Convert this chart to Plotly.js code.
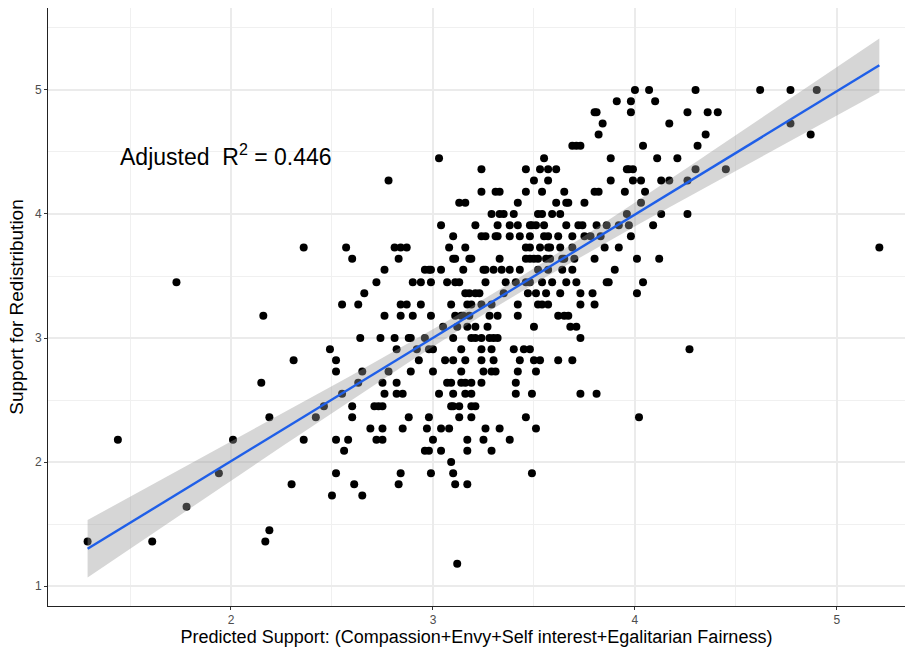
<!DOCTYPE html>
<html><head><meta charset="utf-8">
<script src="https://cdn.plot.ly/plotly-3.0.1.min.js"></script>
<style>html,body{margin:0;padding:0;background:#fff}#chart{width:908px;height:648px}</style>
</head><body><div id="chart"></div>
<script>
// Predicted Support (x) and Support for Redistribution (y), row by row
const predicted = [
4.00,4.07,4.30,4.62,4.77,4.90,
3.91,3.98,4.10,
3.80,3.81,3.98,4.26,4.36,4.41,
3.84,4.17,4.77,
3.82,4.35,4.87,
3.69,3.71,3.73,4.04,4.31,
3.03,3.55,3.88,4.11,4.21,
3.24,3.46,3.53,3.57,3.61,3.96,3.97,3.99,4.30,4.45,
2.78,3.50,3.57,3.88,3.99,4.03,4.13,4.17,4.26,
3.24,3.31,3.33,3.46,3.54,3.65,3.80,3.82,3.95,4.05,
3.13,3.16,3.42,3.61,3.66,3.67,3.75,4.03,
3.29,3.33,3.35,3.40,3.52,3.54,3.59,3.63,3.96,4.13,4.26,
3.04,3.21,3.32,3.38,3.42,3.48,3.49,3.51,3.55,3.66,3.72,3.74,3.81,3.86,3.92,3.97,4.09,
3.10,3.24,3.26,3.31,3.32,3.38,3.43,3.48,3.55,3.57,3.62,3.69,3.75,3.78,3.83,3.98,
2.36,2.57,2.81,2.84,2.87,3.08,3.16,3.46,3.48,3.53,3.57,3.58,3.63,3.69,3.85,3.92,5.21,
2.60,2.83,3.10,3.11,3.18,3.19,3.33,3.46,3.48,3.50,3.52,3.56,3.58,3.64,3.65,3.70,3.80,4.01,4.12,
2.76,2.96,2.98,2.99,3.04,3.15,3.25,3.26,3.30,3.34,3.38,3.43,3.52,3.57,3.64,3.69,3.90,
1.73,2.72,2.90,2.94,2.99,3.07,3.11,3.13,3.26,3.36,3.41,3.46,3.48,3.54,3.59,3.66,3.71,3.86,3.87,4.04,
2.66,3.16,3.18,3.21,3.23,3.35,3.47,3.51,3.56,3.63,3.73,3.79,4.01,
2.55,2.63,2.84,2.87,2.94,3.09,3.17,3.19,3.24,3.29,3.42,3.52,3.54,3.57,3.73,3.80,
2.16,2.76,2.84,2.90,2.99,3.11,3.14,3.15,3.18,3.28,3.32,3.42,3.62,3.65,3.67,
3.05,3.12,3.17,3.21,3.27,3.50,3.68,3.71,
2.64,2.74,2.81,2.88,2.89,2.96,3.10,3.19,3.21,3.24,3.28,3.30,3.32,3.73,
2.49,2.82,2.92,2.98,3.00,3.14,3.24,3.29,3.40,3.45,3.48,4.27,
2.31,2.52,2.93,3.06,3.10,3.16,3.24,3.30,3.43,3.50,3.53,3.62,3.69,
2.52,2.65,2.78,2.89,3.00,3.14,3.25,3.29,3.31,3.42,3.51,
2.15,2.63,2.75,2.82,3.07,3.09,3.14,3.16,3.19,3.24,3.41,
2.55,2.76,2.82,2.85,3.03,3.10,3.16,3.19,3.41,3.49,3.73,3.81,
2.46,2.60,2.71,2.73,2.75,3.09,3.10,3.13,3.19,3.21,
2.19,2.42,2.60,2.88,2.98,3.13,3.19,3.46,4.02,
2.69,2.75,2.85,2.97,3.04,3.08,3.26,3.33,3.51,
1.44,2.01,2.36,2.52,2.58,2.72,2.75,3.00,3.17,3.25,3.38,
2.56,2.96,2.98,3.04,3.17,3.29,
3.09,
1.94,2.52,2.84,2.99,3.10,3.49,
2.30,2.61,2.83,3.11,3.17,
2.50,2.65,
1.78,
2.19,
1.29,1.61,2.17,
3.12
];
const support = [
5,5,5,5,5,5,
4.91,4.91,4.91,
4.82,4.82,4.82,4.82,4.82,4.82,
4.73,4.73,4.73,
4.64,4.64,4.64,
4.55,4.55,4.55,4.55,4.55,
4.45,4.45,4.45,4.45,4.45,
4.36,4.36,4.36,4.36,4.36,4.36,4.36,4.36,4.36,4.36,
4.27,4.27,4.27,4.27,4.27,4.27,4.27,4.27,4.27,
4.18,4.18,4.18,4.18,4.18,4.18,4.18,4.18,4.18,4.18,
4.09,4.09,4.09,4.09,4.09,4.09,4.09,4.09,
4,4,4,4,4,4,4,4,4,4,4,
3.91,3.91,3.91,3.91,3.91,3.91,3.91,3.91,3.91,3.91,3.91,3.91,3.91,3.91,3.91,3.91,3.91,
3.82,3.82,3.82,3.82,3.82,3.82,3.82,3.82,3.82,3.82,3.82,3.82,3.82,3.82,3.82,3.82,
3.73,3.73,3.73,3.73,3.73,3.73,3.73,3.73,3.73,3.73,3.73,3.73,3.73,3.73,3.73,3.73,3.73,
3.64,3.64,3.64,3.64,3.64,3.64,3.64,3.64,3.64,3.64,3.64,3.64,3.64,3.64,3.64,3.64,3.64,3.64,3.64,
3.55,3.55,3.55,3.55,3.55,3.55,3.55,3.55,3.55,3.55,3.55,3.55,3.55,3.55,3.55,3.55,3.55,
3.45,3.45,3.45,3.45,3.45,3.45,3.45,3.45,3.45,3.45,3.45,3.45,3.45,3.45,3.45,3.45,3.45,3.45,3.45,3.45,
3.36,3.36,3.36,3.36,3.36,3.36,3.36,3.36,3.36,3.36,3.36,3.36,3.36,
3.27,3.27,3.27,3.27,3.27,3.27,3.27,3.27,3.27,3.27,3.27,3.27,3.27,3.27,3.27,3.27,
3.18,3.18,3.18,3.18,3.18,3.18,3.18,3.18,3.18,3.18,3.18,3.18,3.18,3.18,3.18,
3.09,3.09,3.09,3.09,3.09,3.09,3.09,3.09,
3,3,3,3,3,3,3,3,3,3,3,3,3,3,
2.91,2.91,2.91,2.91,2.91,2.91,2.91,2.91,2.91,2.91,2.91,2.91,
2.82,2.82,2.82,2.82,2.82,2.82,2.82,2.82,2.82,2.82,2.82,2.82,2.82,
2.73,2.73,2.73,2.73,2.73,2.73,2.73,2.73,2.73,2.73,2.73,
2.64,2.64,2.64,2.64,2.64,2.64,2.64,2.64,2.64,2.64,2.64,
2.55,2.55,2.55,2.55,2.55,2.55,2.55,2.55,2.55,2.55,2.55,2.55,
2.45,2.45,2.45,2.45,2.45,2.45,2.45,2.45,2.45,2.45,
2.36,2.36,2.36,2.36,2.36,2.36,2.36,2.36,2.36,
2.27,2.27,2.27,2.27,2.27,2.27,2.27,2.27,2.27,
2.18,2.18,2.18,2.18,2.18,2.18,2.18,2.18,2.18,2.18,2.18,
2.09,2.09,2.09,2.09,2.09,2.09,
2,
1.91,1.91,1.91,1.91,1.91,1.91,
1.82,1.82,1.82,1.82,1.82,
1.73,1.73,
1.64,
1.45,
1.36,1.36,1.36,
1.18
];
const xTicks = [2, 3, 4, 5];
const yTicks = [1, 2, 3, 4, 5];
const xTitle = 'Predicted Support: (Compassion+Envy+Self interest+Egalitarian Fairness)';
const yTitle = 'Support for Redistribution';
const r2Label = 'Adjusted  R<sup>2</sup> = 0.446';

// Linear fit (lm) with 95% confidence band, computed from the points
const n = Math.min(predicted.length, support.length);
const X = predicted.slice(0, n), Y = support.slice(0, n);
const xbar = X.reduce((a, b) => a + b, 0) / n;
const ybar = Y.reduce((a, b) => a + b, 0) / n;
let sxx = 0, sxy = 0;
for (let i = 0; i < n; i++) { sxx += (X[i] - xbar) ** 2; sxy += (X[i] - xbar) * (Y[i] - ybar); }
const slope = sxy / sxx, intercept = ybar - slope * xbar;
let sse = 0;
for (let i = 0; i < n; i++) sse += (Y[i] - intercept - slope * X[i]) ** 2;
const s = Math.sqrt(sse / (n - 2));
const tq = 1.966;
const xmin = Math.min(...X), xmax = Math.max(...X);
const gx = [], gy = [], lo = [], hi = [];
for (let k = 0; k <= 80; k++) {
  const x = xmin + (xmax - xmin) * k / 80;
  const yh = intercept + slope * x;
  const se = s * Math.sqrt(1 / n + (x - xbar) ** 2 / sxx);
  gx.push(x); gy.push(yh); lo.push(yh - tq * se); hi.push(yh + tq * se);
}

const traces = [
  { type: 'scatter', mode: 'markers', x: X, y: Y, marker: { color: '#000', size: 8 }, hoverinfo: 'x+y' },
  { type: 'scatter', mode: 'lines', x: gx.concat(gx.slice().reverse()), y: hi.concat(lo.slice().reverse()),
    fill: 'toself', fillcolor: 'rgba(153,153,153,0.4)', line: { width: 0 }, hoverinfo: 'skip' },
  { type: 'scatter', mode: 'lines', x: gx, y: gy, line: { color: '#1f5fe8', width: 2.4 }, hoverinfo: 'skip' }
];

const axisCommon = {
  showgrid: true, gridcolor: '#ebebeb', gridwidth: 1.2, zeroline: false,
  showline: true, linecolor: '#222222', linewidth: 1, mirror: false,
  ticks: 'outside', ticklen: 3, tickcolor: '#333333', tickwidth: 1,
  tickfont: { family: 'Liberation Sans, Arial, sans-serif', size: 12, color: '#4d4d4d' },
  minor: { dtick: 0.5, showgrid: true, gridcolor: '#f0f0f0', gridwidth: 1, ticks: '' }
};

const layout = {
  width: 908, height: 648,
  margin: { l: 48, r: 3, t: 8, b: 42 },
  paper_bgcolor: '#fff', plot_bgcolor: '#fff',
  showlegend: false,
  font: { family: 'Liberation Sans, Arial, sans-serif' },
  xaxis: Object.assign({}, axisCommon, {
    range: [1.094, 5.337], tickvals: xTicks, ticktext: xTicks.map(String),
    minor: Object.assign({}, axisCommon.minor, { tick0: 0 }),
    title: { text: xTitle, font: { size: 18, color: '#000' }, standoff: 3 }
  }),
  yaxis: Object.assign({}, axisCommon, {
    range: [0.839, 5.661], tickvals: yTicks, ticktext: yTicks.map(String),
    minor: Object.assign({}, axisCommon.minor, { tick0: 0 }),
    title: { text: yTitle, font: { size: 19, color: '#000' }, standoff: 6 }
  }),
  annotations: [{
    x: 1.44, y: 4.476, xref: 'x', yref: 'y', xanchor: 'left', yanchor: 'middle',
    text: r2Label, showarrow: false, font: { size: 23, color: '#000' }
  }]
};

Plotly.newPlot('chart', traces, layout, { displayModeBar: false, staticPlot: true });
</script>
</body></html>
